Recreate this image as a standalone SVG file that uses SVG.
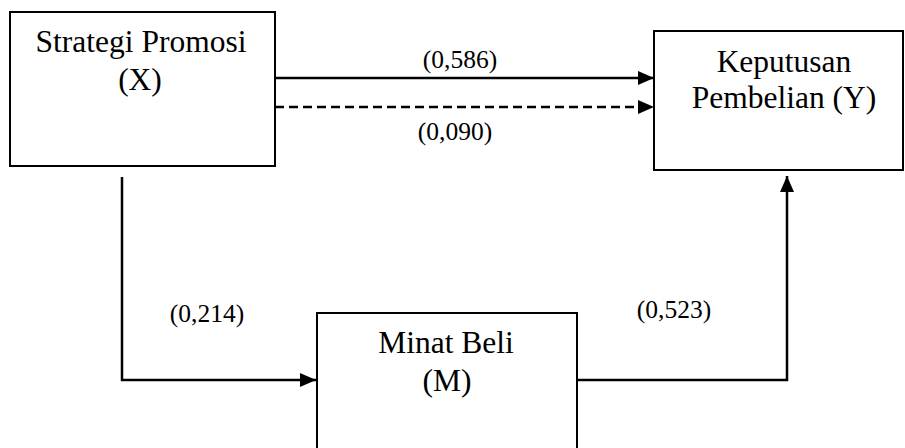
<svg xmlns="http://www.w3.org/2000/svg" width="905" height="448" viewBox="0 0 905 448">
  <style>
    .box { fill: #ffffff; stroke: #000000; stroke-width: 2; }
    .node { font-family: "Liberation Serif", "Times New Roman", serif; font-size: 31.5px; fill: #000000; text-anchor: middle; }
    .lbl { font-family: "Liberation Serif", "Times New Roman", serif; font-size: 25.5px; fill: #000000; text-anchor: middle; }
    .conn { fill: none; stroke: #000000; stroke-width: 2.5; }
    .dash { stroke-dasharray: 9 5; }
  </style>
  <defs>
    <marker id="arrow" viewBox="0 0 16 14" refX="16" refY="7" markerWidth="16" markerHeight="14" markerUnits="userSpaceOnUse" orient="auto">
      <path d="M0,0 L16,7 L0,14 Z" fill="#000000"/>
    </marker>
  </defs>
  <rect width="905" height="448" fill="#ffffff"/>

  <g id="node-x">
    <rect class="box" x="10" y="12" width="265" height="154"/>
    <text class="node" x="141" y="52">Strategi Promosi</text>
    <text class="node" x="140" y="90">(X)</text>
  </g>

  <g id="node-y">
    <rect class="box" x="654" y="31" width="249" height="139"/>
    <text class="node" x="784" y="72">Keputusan</text>
    <text class="node" x="784" y="108">Pembelian (Y)</text>
  </g>

  <g id="node-m">
    <rect class="box" x="317" y="313" width="260" height="150"/>
    <text class="node" x="446" y="353">Minat Beli</text>
    <text class="node" x="447" y="391">(M)</text>
  </g>

  <g id="connectors">
    <path class="conn" d="M275,78 L654,78" marker-end="url(#arrow)"/>
    <path class="conn dash" d="M275,107 L654,107" marker-end="url(#arrow)"/>
    <path class="conn" d="M122,177 L122,380 L316,380" marker-end="url(#arrow)"/>
    <path class="conn" d="M577,380 L787,380 L787,176" marker-end="url(#arrow)"/>
  </g>

  <g id="labels">
    <text class="lbl" x="460" y="68">(0,586)</text>
    <text class="lbl" x="455" y="140">(0,090)</text>
    <text class="lbl" x="207" y="322">(0,214)</text>
    <text class="lbl" x="674" y="318">(0,523)</text>
  </g>
</svg>
